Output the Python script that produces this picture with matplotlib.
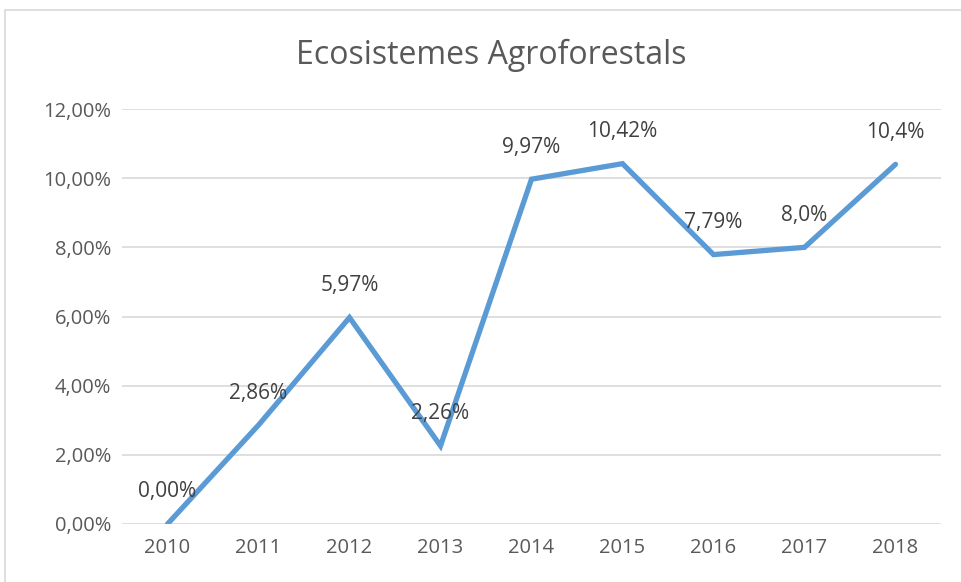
import matplotlib
matplotlib.use("Agg")
import matplotlib.pyplot as plt
from matplotlib.patches import Rectangle
from matplotlib.ticker import FuncFormatter

years = ["2010", "2011", "2012", "2013", "2014", "2015", "2016", "2017", "2018"]
values = [0.0, 2.86, 5.97, 2.26, 9.97, 10.42, 7.79, 8.0, 10.4]
labels = ["0,00%", "2,86%", "5,97%", "2,26%", "9,97%", "10,42%", "7,79%", "8,0%", "10,4%"]
yticks = [0, 2, 4, 6, 8, 10, 12]

plt.rcParams['font.family'] = ['Open Sans', 'DejaVu Sans']

fig = plt.figure(figsize=(9.61, 5.82), dpi=100)
ax = fig.add_axes([122/961, 1 - 524/582, 819/961, 415/582])

# chart border
fig.patches.append(Rectangle((5/961, -0.1), 1.2, 1 - 10/582 + 0.1, transform=fig.transFigure,
                             fill=False, edgecolor='#d9d9d9', linewidth=1.2))

x = list(range(len(years)))
ax.plot(x, values, color='#5b9bd5', linewidth=3.8, solid_joinstyle='miter', solid_capstyle='round')

for xi, v, lab in zip(x, values, labels):
    ax.annotate(lab, (xi, v), xytext=(0, 32), textcoords='offset pixels',
                ha='center', va='center', fontsize=15, color='#404040')

ax.set_xlim(-0.5, len(years) - 0.5)
ax.set_ylim(0, 12)
ax.set_yticks(yticks)
ax.yaxis.set_major_formatter(FuncFormatter(lambda v, p: ('%.2f%%' % v).replace('.', ',')))
ax.set_xticks(x)
ax.set_xticklabels(years)
ax.grid(axis='y', color='#d9d9d9', linewidth=1.2)
ax.set_axisbelow(True)
for s in ax.spines.values():
    s.set_visible(False)
ax.tick_params(length=0, labelsize=14.5, colors='#595959')
ax.tick_params(axis='x', pad=10)
ax.tick_params(axis='y', pad=8)

fig.text(491/961, 1 - 55/582, "Ecosistemes Agroforestals", ha='center', va='center',
         fontsize=23, color='#595959')

fig.savefig('out.png', dpi=100)
